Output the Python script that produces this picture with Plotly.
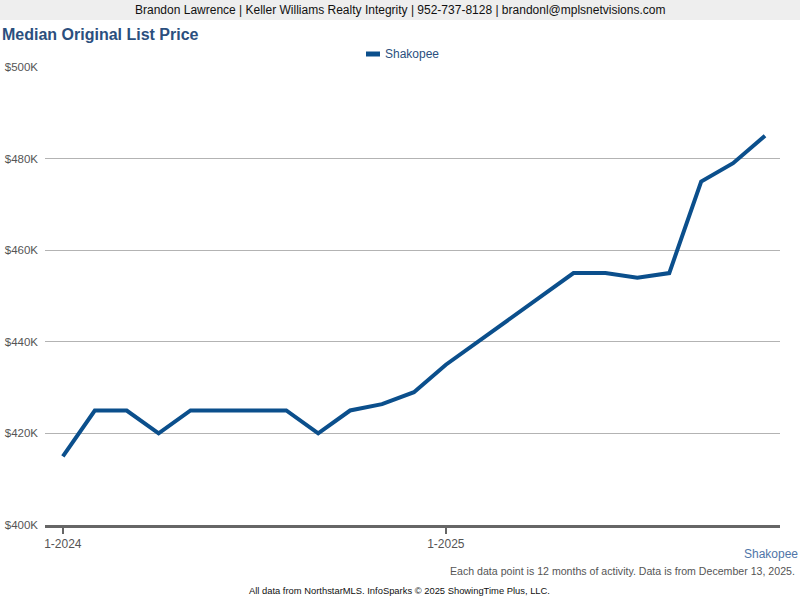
import plotly.graph_objects as go

months = ["1-2024","2-2024","3-2024","4-2024","5-2024","6-2024","7-2024","8-2024","9-2024","10-2024","11-2024","12-2024",
          "1-2025","2-2025","3-2025","4-2025","5-2025","6-2025","7-2025","8-2025","9-2025","10-2025","11-2025"]
shakopee = [415000,425000,425000,420000,425000,425000,425000,425000,420000,425000,426400,429000,
            435000,440000,445000,450000,455000,455000,454000,455000,475000,479000,485000]
tick_labels = {"1-2024": "1-2024", "1-2025": "1-2025"}
y_ticks = [400000, 420000, 440000, 460000, 480000, 500000]
y_labels = ["$400K", "$420K", "$440K", "$460K", "$480K", "$500K"]
series_name = "Shakopee"

W, H = 800, 600
L, R, T, B = 45, 20, 67, 75
PW, PH = W - L - R, H - T - B

def px(x):
    return (x - L) / PW

def py(y):
    return (H - B - y) / PH

idx = list(range(len(months)))
tickvals = [i for i, m in enumerate(months) if m in tick_labels]
ticktext = [tick_labels[months[i]] for i in tickvals]

LINE_COLOR = "#0b4f8c"
fig = go.Figure()
fig.add_trace(go.Scatter(x=idx, y=shakopee, mode="lines", name=series_name,
                         line=dict(color=LINE_COLOR, width=4), showlegend=False))

font = "Arial, Liberation Sans, sans-serif"
fig.update_layout(
    width=W, height=H,
    margin=dict(l=L, r=R, t=T, b=B, autoexpand=False),
    paper_bgcolor="white", plot_bgcolor="white",
    font=dict(family=font, size=12, color="#555555"),
    showlegend=False,
    xaxis=dict(range=[-0.56, len(months) - 1 + 0.47], tickvals=tickvals, ticktext=ticktext,
               showgrid=False, zeroline=False, showline=True, linecolor="#666666", linewidth=3,
               ticks="outside", ticklen=6, tickwidth=2, tickcolor="#666666", automargin=False,
               tickfont=dict(size=12, color="#555555")),
    yaxis=dict(range=[400000, 500000], tickvals=y_ticks, ticktext=y_labels,
               showgrid=True, gridcolor="#b3b3b3", gridwidth=1, zeroline=False, automargin=False,
               showline=False, ticks="", ticklabelstandoff=6, tickfont=dict(size=11.5, color="#555555")),
)

# header band
fig.add_shape(type="rect", xref="paper", yref="paper", x0=px(0), x1=px(W), y0=py(20), y1=py(0),
              fillcolor="#eeeeee", line=dict(width=0), layer="below")
# legend swatch
fig.add_shape(type="line", xref="paper", yref="paper", x0=px(366), x1=px(380), y0=py(54), y1=py(54),
              line=dict(color=LINE_COLOR, width=5))
fig.add_annotation(xref="paper", yref="paper", x=px(383), y=py(54), xanchor="left", yanchor="middle",
                   text=series_name, showarrow=False, font=dict(size=12, color="#2b4f7e", family=font))

fig.add_annotation(xref="paper", yref="paper", x=px(400), y=py(10), xanchor="center", yanchor="middle",
                   text="Brandon Lawrence | Keller Williams Realty Integrity | 952-737-8128 | brandonl@mplsnetvisions.com",
                   showarrow=False, font=dict(size=12, color="#111111", family=font))
fig.add_annotation(xref="paper", yref="paper", x=px(0), y=py(34), xanchor="left", yanchor="middle",
                   text="<b>Median Original List Price</b>", showarrow=False,
                   font=dict(size=16, color="#2b4f7e", family=font))
fig.add_annotation(xref="paper", yref="paper", x=px(800), y=py(554), xanchor="right", yanchor="middle",
                   text=series_name, showarrow=False, font=dict(size=12, color="#4f75a8", family=font))
fig.add_annotation(xref="paper", yref="paper", x=px(797), y=py(571), xanchor="right", yanchor="middle",
                   text="Each data point is 12 months of activity. Data is from December 13, 2025.",
                   showarrow=False, font=dict(size=10.6, color="#555555", family=font))
fig.add_annotation(xref="paper", yref="paper", x=px(399), y=py(590), xanchor="center", yanchor="middle",
                   text="All data from NorthstarMLS. InfoSparks © 2025 ShowingTime Plus, LLC.",
                   showarrow=False, font=dict(size=9.4, color="#111111", family=font))

fig.write_html("out.html", config={"displayModeBar": False},
               post_script="document.body.style.margin='0';document.body.style.overflow='hidden';window.dispatchEvent(new Event('resize'));")
